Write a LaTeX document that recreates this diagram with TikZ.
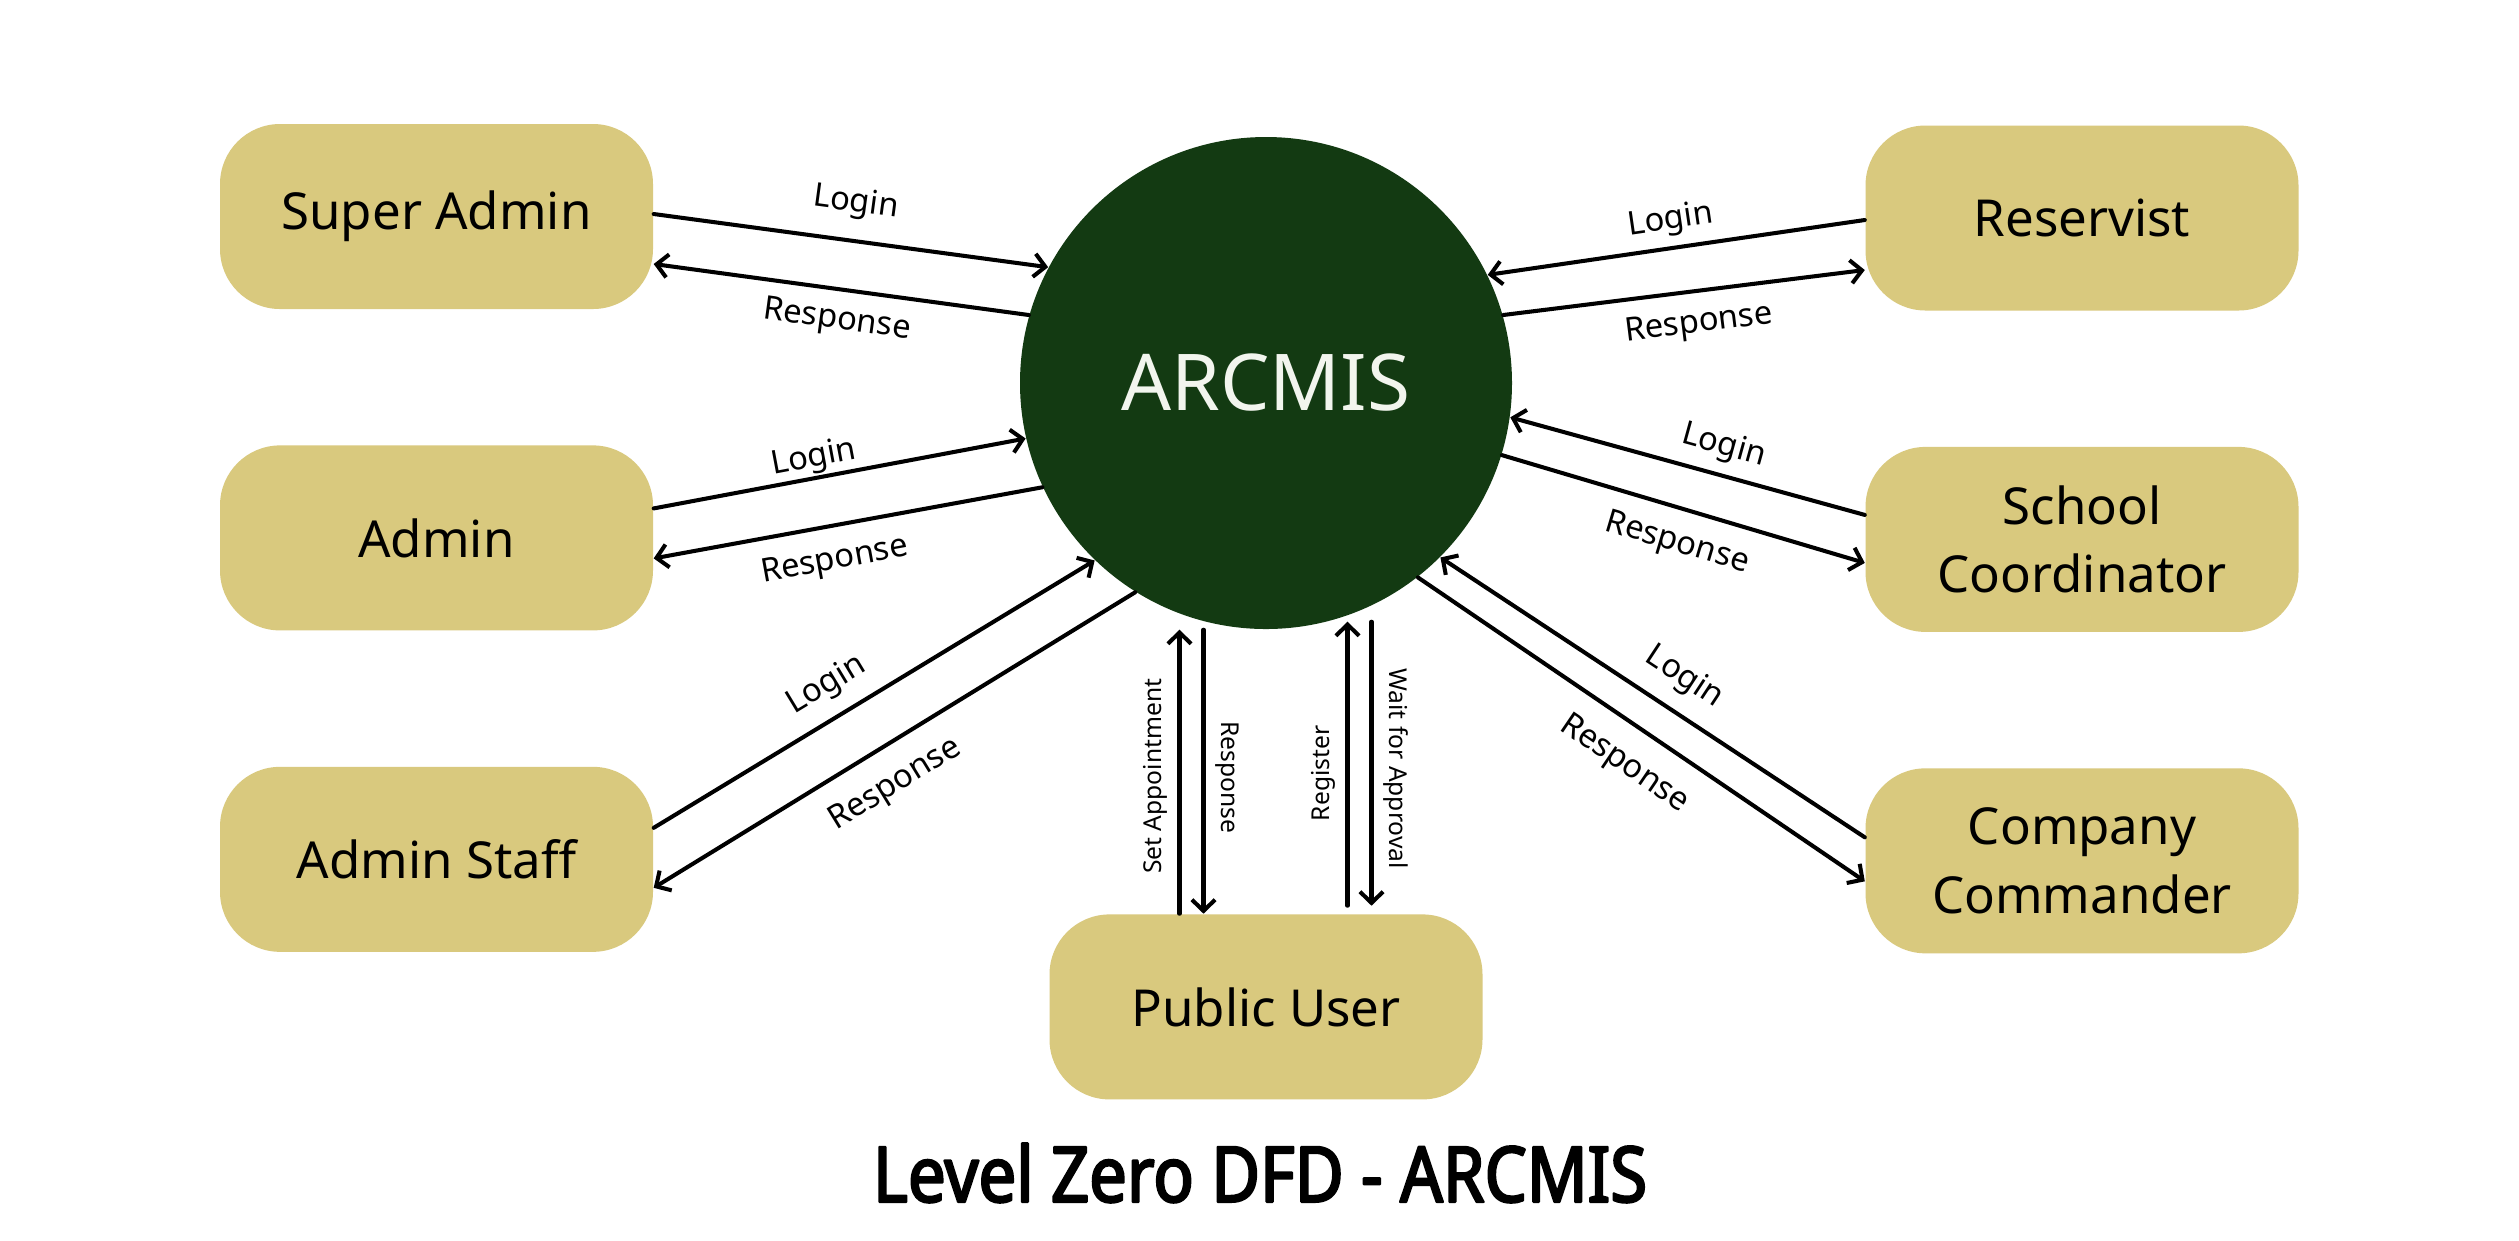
\documentclass[tikz,border=0pt]{standalone}
\usepackage{fontspec}
\setmainfont{Noto Sans}
\newfontfamily\titlefont{Noto Sans}[FakeStretch=0.87,FakeBold=3]
\usetikzlibrary{arrows.meta,positioning}
\definecolor{boxtan}{HTML}{D9C97E}
\definecolor{procgreen}{HTML}{133A12}
\definecolor{proctext}{HTML}{F2F5EE}
\begin{document}
\begin{tikzpicture}[line join = round, line cap=round,>={Straight Barb[length=3.2pt,width=6.6pt]},
	entity/.style={rectangle,rounded corners=0.6cm,fill=boxtan,minimum width=4.33cm,minimum height=1.85cm,align=center,inner sep=0pt,font=\fontsize{14.5}{19.6}\selectfont},
	process/.style={circle,fill=procgreen,minimum size=4.92cm,inner sep=0pt,text=proctext,font=\fontsize{22.3}{26}\selectfont},
	flow/.style={->,line width=1.15pt},
	lbl/.style={sloped,inner xsep=0pt,inner ysep=3pt,font=\fontsize{9.3}{11}\selectfont},
	vlbl/.style={anchor=south,inner sep=3pt,font=\fontsize{7}{8}\selectfont}]
		%%%%%%%%%%%%%%%
		\fill[white] (0,0) rectangle (25.19,-12.40);
		\useasboundingbox (0,0) rectangle (25.19,-12.40);
		%%%%%%%%%%%%%%%
		\node[process] (arcmis) at (12.66,-3.83) {ARCMIS};
		\node[entity] (sadmin) at (4.365,-2.165) {Super Admin};
		\node[entity,below=1.35cm of sadmin] (admin) {Admin};
		\node[entity,below=1.35cm of admin] (astaff) {Admin Staff};
		\node[entity] (reserv) at (20.82,-2.18) {Reservist};
		\node[entity,below=1.35cm of reserv] (school) {School\\Coordinator};
		\node[entity,below=1.35cm of school] (commander) {Company\\Commander};
		\node[entity,below=2.84cm of arcmis] (puser) {Public User};
		%%%%%%%%%%%%%%%
		\draw[flow] ([yshift=0.025cm]sadmin.east) -- (arcmis.152) node[lbl,pos=.5,above,inner ysep=5.5pt] {Login};
		\draw[flow] (arcmis.164) -- ([yshift=-0.475cm]sadmin.east) node[lbl,pos=.5,below,inner ysep=4pt] {Response};
		\draw[flow] ([yshift=0.295cm]admin.east) -- (arcmis.193.9) node[lbl,pos=.44,above,inner ysep=0.4pt] {Login};
		\draw[flow] (arcmis.205.7) -- ([yshift=-0.205cm]admin.east) node[lbl,pos=.55,below,inner ysep=5pt] {Response};
		\draw[flow] ([yshift=0.315cm]astaff.east) -- (arcmis.226.2) node[lbl,pos=.43,above,inner ysep=4pt] {Login};
		\draw[flow] (arcmis.238) -- ([yshift=-0.285cm]astaff.east) node[lbl,pos=.54,below,inner ysep=6pt] {Response};
		%%%%%%%%%%%%%%%
		\draw[flow] ([yshift=-0.02cm]reserv.west) -- (arcmis.26) node[lbl,pos=.505,above,inner ysep=2.6pt] {Login};
		\draw[flow] (arcmis.16.3) -- ([yshift=-0.52cm]reserv.west) node[lbl,pos=.53,below,inner ysep=4.5pt] {Response};
		\draw[flow] ([yshift=0.245cm]school.west) -- (arcmis.-8.1) node[lbl,pos=.42,above] {Login};
		\draw[flow] (arcmis.-17) -- ([yshift=-0.235cm]school.west) node[lbl,pos=.51,below,inner ysep=5pt] {Response};
		\draw[flow] ([yshift=0.235cm]commander.west) -- (arcmis.-45) node[lbl,pos=.47,above,inner ysep=4.5pt] {Login};
		\draw[flow] (arcmis.-52.7) -- ([yshift=-0.205cm]commander.west) node[lbl,pos=.51,below,inner ysep=6pt] {Response};
		%%%%%%%%%%%%%%%
		\draw[flow] ([xshift=-0.865cm]puser.north) -- ([xshift=-0.865cm]puser.north |- arcmis.south) node[vlbl,pos=.484,rotate=90] {Set Appointment};
		\draw[flow] ([xshift=-0.625cm]puser.north |- arcmis.south) -- ([xshift=-0.625cm]puser.north) node[vlbl,pos=.52,rotate=-90] {Response};
		\draw[flow] ([xshift=0.815cm,yshift=0.08cm]puser.north) -- ([xshift=0.815cm,yshift=0.08cm]puser.north |- arcmis.south) node[vlbl,pos=.466,rotate=90] {Register};
		\draw[flow] ([xshift=1.055cm,yshift=0.08cm]puser.north |- arcmis.south) -- ([xshift=1.055cm,yshift=0.08cm]puser.north) node[vlbl,pos=.517,rotate=-90] {Wait for Approval};
		%%%%%%%%%%%%%%%
		\node[font=\titlefont\fontsize{21.9}{26}\selectfont] (title) at (12.6,-11.73) {Level Zero DFD - ARCMIS};
\end{tikzpicture}
\end{document}
